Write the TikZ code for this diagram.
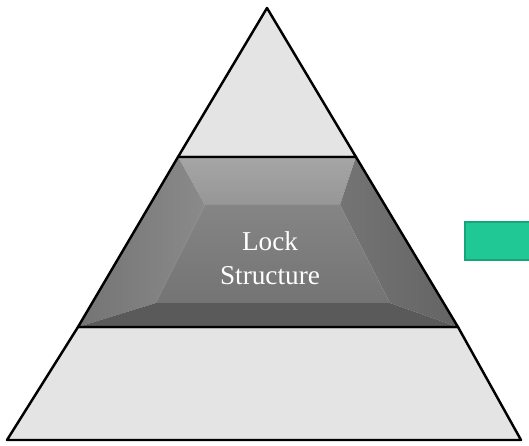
\documentclass[tikz,border=0pt]{standalone}
\usepackage{fontspec}
\setmainfont{Liberation Serif}
\usepackage{tikz}
\usetikzlibrary{calc,positioning}

\definecolor{layerfill}{RGB}{228,228,228}
\definecolor{faceMid}{RGB}{116,116,116}
\definecolor{faceTop}{RGB}{150,150,150}
\definecolor{faceLeft}{RGB}{138,138,138}
\definecolor{faceRight}{RGB}{100,100,100}
\definecolor{faceBot}{RGB}{90,90,90}
\definecolor{barfill}{RGB}{32,200,150}
\definecolor{barline}{RGB}{22,165,120}

\begin{document}
\begin{tikzpicture}[
    x=0.02cm, y=-0.02cm,
    layer/.style={draw=black,line width=1.4pt,line join=round,fill=layerfill},
    edge/.style={draw=black,line width=1.4pt,line join=round},
    label/.style={text=white,align=center,font=\fontsize{15.5}{19}\selectfont},
    bar/.style={draw=barline,line width=1pt,fill=barfill,inner sep=0pt,
                minimum width=1.6cm,minimum height=0.76cm,anchor=north west}
]
\clip (0,0) rectangle (529,446);

% --- Positions ---
\coordinate (apex) at (267,8);
\coordinate (tl) at (178,157);
\coordinate (tr) at (356,157);
\coordinate (ml) at (78,327);
\coordinate (mr) at (458,327);
\coordinate (bl) at (7,440);
\coordinate (br) at (521,440);

% inner face of the middle band
\coordinate (itl) at (205,205);
\coordinate (itr) at (340,205);
\coordinate (ibr) at (390,303);
\coordinate (ibl) at (156,303);

% --- Top and bottom layers ---
\path[layer] (apex) -- (tr) -- (tl) -- cycle;
\path[layer] (ml) -- (mr) -- (br) -- (bl) -- cycle;

% --- Middle band, bevelled ---
\shade[top color=faceTop!85!white,bottom color=faceTop]
    (tl) -- (tr) -- (itr) -- (itl) -- cycle;
\shade[left color=faceMid,right color=faceLeft,shading angle=90]
    (tl) -- (itl) -- (ibl) -- (ml) -- cycle;
\shade[left color=faceMid,right color=faceRight]
    (tr) -- (mr) -- (ibr) -- (itr) -- cycle;
\fill[faceBot]   (ml) -- (ibl) -- (ibr) -- (mr) -- cycle;
\shade[top color=faceMid!88!white,bottom color=faceMid]
    (itl) -- (itr) -- (ibr) -- (ibl) -- cycle;
\path[edge] (tl) -- (tr) -- (mr) -- (ml) -- cycle;

\node[label] (lock) at (270,258) {Lock\\Structure};

% --- Bar on the right ---
\node[bar] (bar) at (464,221) {};
\end{tikzpicture}
\end{document}
